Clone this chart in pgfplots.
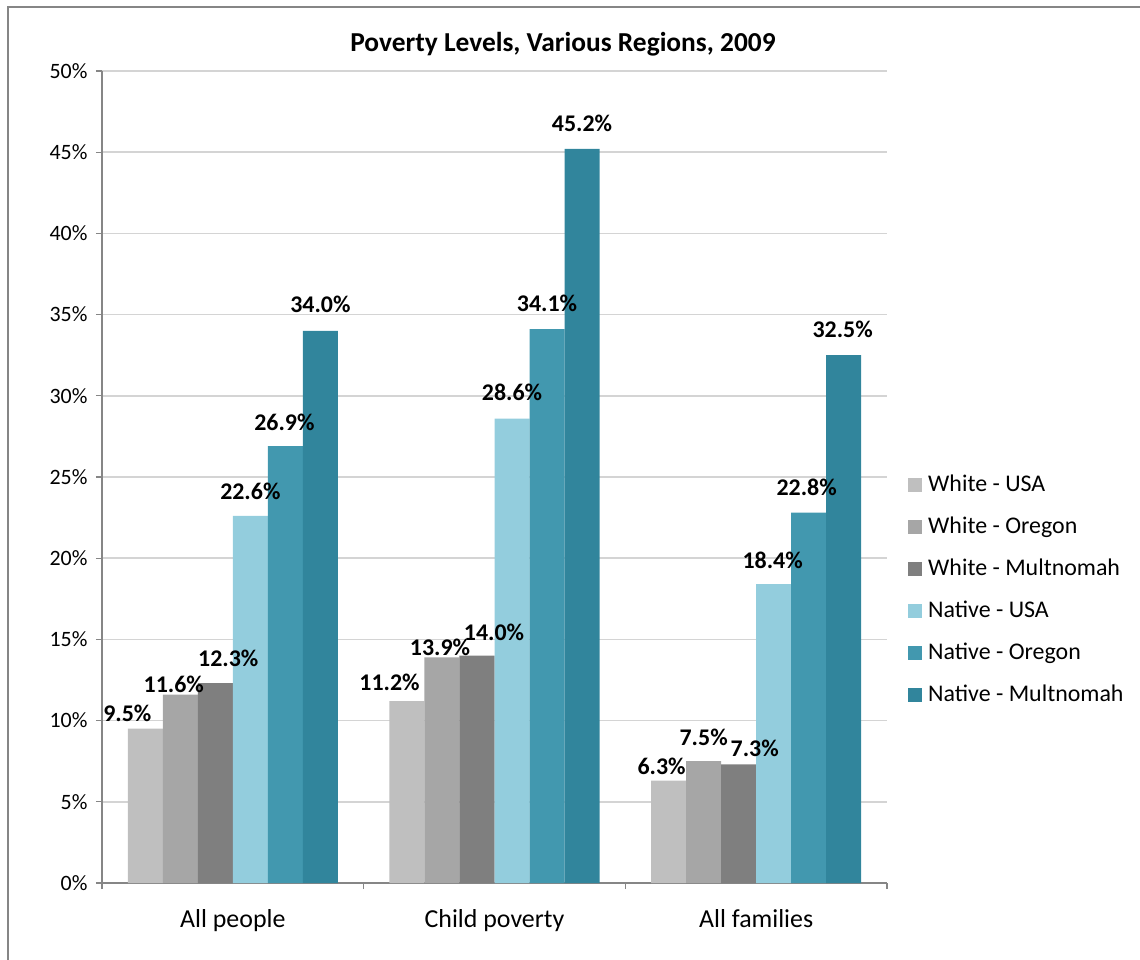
\documentclass[border=0pt]{standalone}
\usepackage{pgfplots}
\usepackage{pgfplotstable}
\pgfplotsset{compat=1.18}
\usepackage{fontspec}
\setmainfont{Carlito}
\definecolor{wusa}{RGB}{191,191,191}
\definecolor{wore}{RGB}{166,166,166}
\definecolor{wmul}{RGB}{127,127,127}
\definecolor{nusa}{RGB}{147,205,221}
\definecolor{nore}{RGB}{66,152,175}
\definecolor{nmul}{RGB}{49,133,156}
\definecolor{axgray}{RGB}{134,134,134}
\definecolor{gridgray}{RGB}{212,212,212}
\pgfplotsset{sqlegend/.style={legend image code/.code={\fill[##1] (0bp,-7bp) rectangle (14bp,7bp);}}}

\pgfplotstableread{
x y dx dy
0 9.5 -18 15
1 11.2 -17.5 19
2 6.3 -7 14
}\tWusa
\pgfplotstableread{
x y dx dy
0 11.6 -6.5 10
1 13.9 -2 10
2 7.5 0 24
}\tWore
\pgfplotstableread{
x y dx dy
0 12.3 13 25
1 14.0 17 23
2 7.3 16 16
}\tWmul
\pgfplotstableread{
x y dx dy
0 22.6 0 25
1 28.6 0 26
2 18.4 -1 24
}\tNusa
\pgfplotstableread{
x y dx dy
0 26.9 -1 24
1 34.1 0 26
2 22.8 -2 25
}\tNore
\pgfplotstableread{
x y dx dy
0 34.0 0 26
1 45.2 0 26
2 32.5 -1 26
}\tNmul

\begin{document}
\begin{tikzpicture}
\path[use as bounding box] (-102bp,-77bp) rectangle (1038bp,883bp);
\draw[axgray, line width=2bp] (-94bp,-80bp) -- (-94bp,876bp) -- (1040bp,876bp);
\begin{axis}[
  at={(0,0)}, anchor=south west,
  scale only axis, width=785bp, height=812bp,
  xmin=-0.5, xmax=2.5, ymin=0, ymax=50,
  ybar=0pt, bar width=0.1338,
  axis x line*=bottom, axis y line*=left,
  axis line style={axgray, line width=1.3bp},
  /pgf/number format/assume math mode=true,
  ytick={0,5,...,50},
  yticklabel={\pgfmathprintnumber{\tick}\%},
  yticklabel style={font=\fontsize{22}{26}\selectfont, xshift=-5bp},
  ymajorgrids, major grid style={gridgray, line width=1.6bp},
  xtick={-0.5,0.5,1.5,2.5}, xticklabels={},
  extra x ticks={0,1,2},
  extra x tick labels={All people, Child poverty, All families},
  extra x tick style={major tick length=0pt,
     xticklabel style={font=\fontsize{26}{30}\selectfont, anchor=base, yshift=-44bp}},
  tick align=outside, major tick length=6bp,
  tick style={axgray, line width=1.3bp},
  visualization depends on={\thisrow{dx} \as \dx},
  visualization depends on={\thisrow{dy} \as \dy},
  nodes near coords={\pgfmathprintnumber[fixed,fixed zerofill,precision=1]{\pgfplotspointmeta}\%},
  every node near coord/.append style={anchor=center, xshift=\dx bp, yshift=\dy bp,
     font=\bfseries\fontsize{24}{28}\selectfont, text=black},
  legend style={at={(1,0.3633)}, anchor=west, xshift=21bp, yshift=-2bp, draw=none, fill=none,
     font=\fontsize{24}{28}\selectfont, inner sep=0pt, row sep=20bp,
     /tikz/every odd column/.append style={column sep=6bp},
     nodes={inner sep=0pt, text height=17bp, text depth=5bp}},
  legend cell align=left,
]
\addplot[fill=wusa, draw=none, sqlegend] table[x=x,y=y] {\tWusa};
\addlegendentry{White - USA}
\addplot[fill=wore, draw=none, sqlegend] table[x=x,y=y] {\tWore};
\addlegendentry{White - Oregon}
\addplot[fill=wmul, draw=none, sqlegend] table[x=x,y=y] {\tWmul};
\addlegendentry{White - Multnomah}
\addplot[fill=nusa, draw=none, sqlegend] table[x=x,y=y] {\tNusa};
\addlegendentry{Native - USA}
\addplot[fill=nore, draw=none, sqlegend] table[x=x,y=y] {\tNore};
\addlegendentry{Native - Oregon}
\addplot[fill=nmul, draw=none, sqlegend] table[x=x,y=y] {\tNmul};
\addlegendentry{Native - Multnomah}
\end{axis}
\node[font=\bfseries\fontsize{27.5}{32}\selectfont, anchor=base] at (461bp,831bp) {Poverty Levels, Various Regions, 2009};
\end{tikzpicture}
\end{document}
